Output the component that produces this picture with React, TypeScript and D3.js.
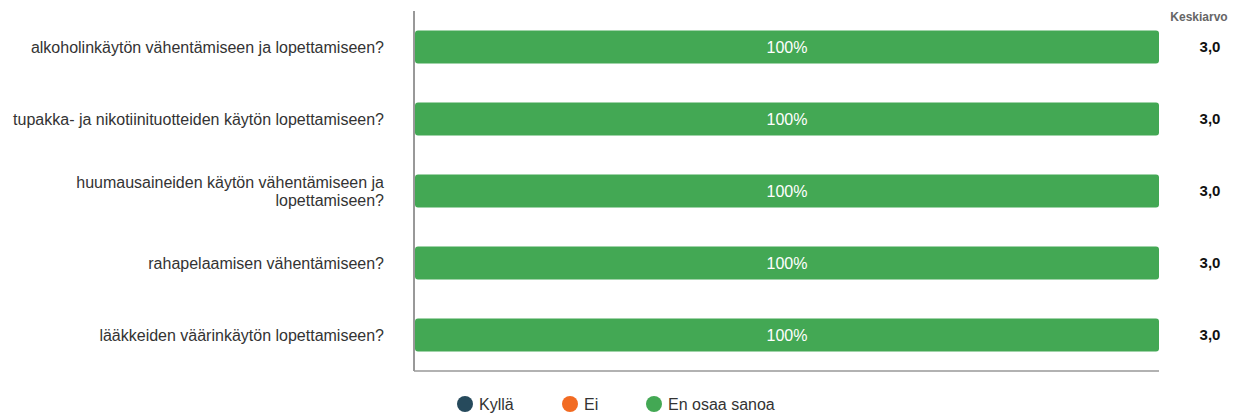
import React from "react";
import { scaleBand, scaleLinear, stack } from "d3";

const questions = [
  "alkoholinkäytön vähentämiseen ja lopettamiseen?",
  "tupakka- ja nikotiinituotteiden käytön lopettamiseen?",
  "huumausaineiden käytön vähentämiseen ja|lopettamiseen?",
  "rahapelaamisen vähentämiseen?",
  "lääkkeiden väärinkäytön lopettamiseen?"
];
const kylla = [0, 0, 0, 0, 0];
const ei = [0, 0, 0, 0, 0];
const enOsaa = [100, 100, 100, 100, 100];
const averages = ["3,0", "3,0", "3,0", "3,0", "3,0"];

const seriesNames = ["Kyllä", "Ei", "En osaa sanoa"];
const colors = ["#264a5c", "#f26b22", "#43a854"];

const W = 1239;
const H = 414;
const left = 414;
const right = 1159;
const top = 11;
const bottom = 371;

const App = () => {
  const rows = questions.map((q, i) => ({ q, k: kylla[i], e: ei[i], n: enOsaa[i] }));
  const stacked = stack<any>().keys(["k", "e", "n"])(rows);

  const y = scaleBand().domain(questions).range([top, bottom]).paddingInner(0.54).paddingOuter(0.27);
  const x = scaleLinear().domain([0, 100]).range([left + 1, right]);
  const legendX = [465, 570, 654];

  return (
    <svg width={W} height={H} style={{ position: "absolute", left: 0, top: 0, fontFamily: "'Liberation Sans', Arial, sans-serif" }}>
      <line x1={left} x2={left} y1={top} y2={bottom} stroke="#333" strokeWidth={1} />
      <line x1={left} x2={right} y1={bottom} y2={bottom} stroke="#999" strokeWidth={1.5} />
      {questions.map((q, i) => {
        const lines = q.split("|");
        const cy = (y(q) as number) + y.bandwidth() / 2;
        return (
          <text key={q} x={384} y={cy - (lines.length - 1) * 9} textAnchor="end" fontSize={16} fill="#333">
            {lines.map((l, j) => (
              <tspan key={j} x={384} dy={j === 0 ? "0.35em" : 18}>{l}</tspan>
            ))}
          </text>
        );
      })}
      {stacked.map((s, si) =>
        s.map((d, i) =>
          d[1] - d[0] > 0 ? (
            <g key={si + "-" + i}>
              <rect
                x={x(d[0])}
                y={y(questions[i])}
                width={x(d[1]) - x(d[0])}
                height={y.bandwidth()}
                rx={3}
                fill={colors[si]}
              />
              <text
                x={(x(d[0]) + x(d[1])) / 2}
                y={(y(questions[i]) as number) + y.bandwidth() / 2}
                dy="0.35em"
                textAnchor="middle"
                fontSize={16}
                fill="#fff"
              >
                {Math.round(d[1] - d[0])}%
              </text>
            </g>
          ) : null
        )
      )}
      <text x={1199} y={21} textAnchor="middle" fontSize={12} fontWeight="bold" fill="#666">Keskiarvo</text>
      {averages.map((a, i) => (
        <text key={i} x={1210} y={(y(questions[i]) as number) + y.bandwidth() / 2} dy="0.35em" textAnchor="middle" fontSize={15} fontWeight="bold" fill="#111">
          {a}
        </text>
      ))}
      {seriesNames.map((n, i) => (
        <g key={n}>
          <circle cx={legendX[i]} cy={404} r={8} fill={colors[i]} />
          <text x={legendX[i] + 14} y={404} dy="0.35em" fontSize={16} fill="#333">{n}</text>
        </g>
      ))}
    </svg>
  );
};

export default App;
